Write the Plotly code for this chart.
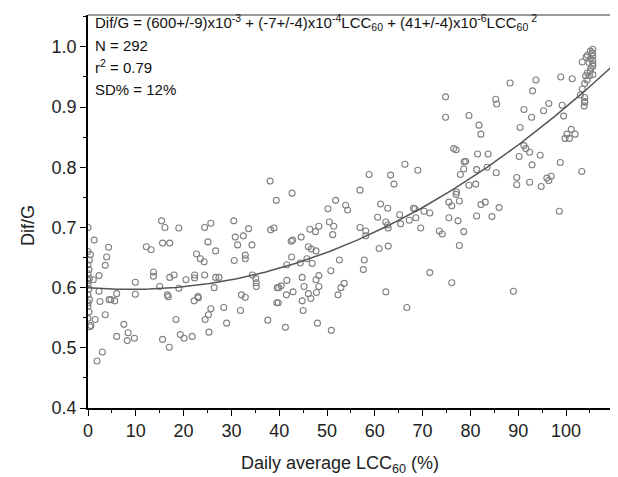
import numpy as np
import plotly.graph_objects as go

# Daily average LCC60 (%) as read against the reference's x tick labels
lcc = [
    0, 0, 0.3, 0, 0.2, 0, 0.3, 0, 0.2, 0, 0.3, 0, 0.2, 0, 0.4, 0, 0, 0.5,
    1.3, 4.3, 3.9, 3.6, 2.3, 1.1, 2.3, 2.5, 3.6, 1.5, 0.6, 3.0, 1.9, 4.4,
    4.8, 5.6, 6.0, 6.0, 7.5, 8.4, 8.2, 9.7, 9.9, 9.9,
    12.2, 13.2, 15.4, 16.1, 15.6, 17.1, 13.7, 13.7, 15.0, 17.1, 18.0, 16.6, 16.8, 19.0, 19.0, 20.5,
    22.3, 22.3, 22.7, 23.5, 24.3, 24.4, 25.7, 25.1, 26.7, 26.7, 27.4, 26.4, 24.4,
    30.5, 30.8, 31.3, 32.5, 33.6, 34.3, 32.9, 32.9, 30.6, 34.4, 35.1, 35.2, 35.2,
    38.1, 39.4, 38.2, 38.9, 39.6, 32.1, 32.9,
    18.4, 15.6, 17.0, 19.3, 20.1, 21.8, 24.5, 25.2, 25.7, 25.3, 28.4, 29.0, 31.9, 37.6, 39.8,
    22.2, 23.0, 23.1,
    42.7, 42.8, 42.5, 44.6, 46.4, 47.6, 48.3, 50.2, 50.5, 51.4, 51.2, 51.8, 53.9, 54.3,
    56.9, 58.8, 56.9, 58.1, 58.1, 60.6, 61.2, 62.7, 62.3, 62.7, 62.8, 63.3, 64.0, 66.3, 69.0,
    65.2, 65.4, 67.2, 68.1, 68.4, 68.6, 69.6, 70.3, 71.5, 73.5, 74.1, 75.5, 76.1, 75.5,
    77.4, 77.7, 78.6, 77.7, 77.1, 77.9, 78.6, 79.0, 79.7,
    42.6, 41.6, 45.8, 46.9, 46.1, 46.7, 47.7, 44.4, 52.6, 50.8, 57.8, 57.6, 60.9, 62.8,
    41.6, 39.9, 40.4, 39.5, 42.9, 41.5, 44.8, 45.2, 44.8, 45.0, 46.1, 46.6, 47.8, 48.3,
    48.3, 47.7, 52.9, 53.6, 52.3, 48.0, 41.3, 50.9, 62.3, 66.7, 71.5, 76.1,
    88.3, 93.7, 93.0, 98.9, 101.3, 103.4,
    105.6, 105.1, 105.5, 104.5, 105.6, 105.1, 104.2, 105.6, 104.8, 105.6, 105.1, 104.5, 105.6, 104.9, 104.1,
    103.9, 103.4, 103.9, 103.8, 103.0, 103.9, 103.9, 105.6, 105.2, 104.4,
    85.3, 85.5, 79.7, 91.2, 92.8, 95.3, 96.4, 99.2, 99.5, 81.8, 82.2, 90.4, 101.1, 100.2,
    101.9, 99.8, 100.7, 76.5, 77.0, 91.2, 91.6, 92.4, 94.6, 90.2, 81.5, 83.7, 78.7, 92.9,
    98.8, 103.3, 81.3, 83.5, 85.4, 89.7, 89.7, 92.4, 94.8, 96.0, 96.9, 96.4, 81.1, 77.0,
    82.2, 83.1, 86.0, 81.3, 84.5, 98.6, 89.0, 74.8, 74.8,
]
difg = [
    0.70, 0.66, 0.646, 0.638, 0.63, 0.623, 0.615, 0.607, 0.598, 0.588, 0.58, 0.569, 0.56, 0.549, 0.535, 0.612, 0.575, 0.655,
    0.679, 0.667, 0.651, 0.637, 0.62, 0.613, 0.594, 0.577, 0.555, 0.547, 0.537, 0.493, 0.478, 0.58,
    0.58, 0.578, 0.59, 0.519, 0.539, 0.525, 0.512, 0.516, 0.609, 0.589,
    0.668, 0.663, 0.711, 0.70, 0.674, 0.674, 0.626, 0.619, 0.602, 0.617, 0.621, 0.588, 0.585, 0.699, 0.599, 0.613,
    0.621, 0.616, 0.656, 0.648, 0.643, 0.70, 0.707, 0.676, 0.661, 0.617, 0.617, 0.60, 0.621,
    0.711, 0.684, 0.671, 0.686, 0.698, 0.671, 0.654, 0.648, 0.645, 0.621, 0.615, 0.608, 0.602,
    0.777, 0.745, 0.696, 0.699, 0.60, 0.588, 0.584,
    0.547, 0.514, 0.501, 0.522, 0.516, 0.519, 0.547, 0.555, 0.565, 0.526, 0.567, 0.541, 0.562, 0.546, 0.575,
    0.578, 0.585, 0.583,
    0.757, 0.679, 0.677, 0.684, 0.697, 0.693, 0.702, 0.731, 0.709, 0.702, 0.688, 0.745, 0.737, 0.729,
    0.762, 0.788, 0.70, 0.694, 0.686, 0.717, 0.739, 0.732, 0.709, 0.704, 0.699, 0.787, 0.772, 0.805, 0.795,
    0.721, 0.706, 0.712, 0.732, 0.731, 0.716, 0.699, 0.727, 0.724, 0.694, 0.689, 0.742, 0.736, 0.716,
    0.711, 0.744, 0.693, 0.67, 0.759, 0.788, 0.797, 0.81, 0.77,
    0.651, 0.638, 0.648, 0.64, 0.668, 0.664, 0.661, 0.641, 0.646, 0.628, 0.646, 0.63, 0.665, 0.669,
    0.612, 0.60, 0.603, 0.575, 0.593, 0.588, 0.617, 0.602, 0.578, 0.562, 0.59, 0.582, 0.592, 0.602,
    0.62, 0.613, 0.60, 0.607, 0.588, 0.541, 0.534, 0.529, 0.593, 0.567, 0.625, 0.608,
    0.94, 0.945, 0.927, 0.95, 0.947, 0.975,
    0.996, 0.993, 0.99, 0.986, 0.985, 0.98, 0.983, 0.978, 0.974, 0.968, 0.96, 0.957, 0.954, 0.952, 0.952,
    0.939, 0.93, 0.909, 0.902, 0.92, 0.916, 0.908, 0.972, 0.965, 0.945,
    0.913, 0.905, 0.886, 0.896, 0.883, 0.894, 0.906, 0.903, 0.885, 0.87, 0.855, 0.866, 0.863, 0.855,
    0.855, 0.848, 0.848, 0.831, 0.829, 0.836, 0.831, 0.825, 0.82, 0.818, 0.822, 0.822, 0.809, 0.804,
    0.808, 0.793, 0.796, 0.80, 0.791, 0.783, 0.771, 0.775, 0.768, 0.782, 0.785, 0.778, 0.772, 0.755,
    0.738, 0.742, 0.733, 0.719, 0.718, 0.727, 0.594, 0.917, 0.883,
]

# Quadratic fit curve as drawn (coefficients in the units of the drawn x axis)
fit_coef = [0.600, -6.6e-4, 3.66e-5]
fit_x = np.linspace(0, 112.6, 240)
fit_y = np.polyval(fit_coef[::-1], fit_x)

x_ticks = [0, 10, 20, 30, 40, 50, 60, 70, 80, 90, 100]
y_ticks = [0.4, 0.5, 0.6, 0.7, 0.8, 0.9, 1.0]

FONT = "Arial, 'Liberation Sans', Helvetica, sans-serif"

# Layout geometry (pixels)
ML, MT, MB = 80, 7, 77
PLOT_H = 477 - MT - MB

fig = go.Figure()
fig.add_trace(go.Scatter(
    x=lcc, y=difg, mode="markers",
    marker=dict(symbol="circle-open", size=6, color="#808080", line=dict(width=1.1, color="#808080")),
    showlegend=False, hoverinfo="skip",
))
fig.add_trace(go.Scatter(
    x=fit_x, y=fit_y, mode="lines",
    line=dict(color="#555555", width=1.5),
    showlegend=False, hoverinfo="skip",
))

axis_common = dict(
    showgrid=False, zeroline=False, showline=True, linecolor="black", linewidth=1.6,
    ticks="outside", ticklen=6, tickwidth=1.4, tickcolor="black",
    tickfont=dict(family=FONT, size=18, color="#222"),
)
fig.update_xaxes(
    range=[0, 112.55], tickvals=x_ticks, ticktext=[str(v) for v in x_ticks],
    minor=dict(ticks="outside", ticklen=3.5, tickwidth=1.2, tickcolor="black", dtick=5, tick0=0),
    **axis_common,
)
fig.update_yaxes(
    range=[0.4, 1.053], tickvals=y_ticks, ticktext=["%.1f" % v for v in y_ticks],
    minor=dict(ticks="outside", ticklen=3.5, tickwidth=1.2, tickcolor="black", dtick=0.05, tick0=0.4),
    **axis_common,
)


def ypix(py):
    return (477 - MB - py) / PLOT_H


annots = [
    dict(text="Dif/G = (600+/-9)x10<sup>-3</sup> + (-7+/-4)x10<sup>-4</sup>LCC<sub>60</sub> + (41+/-4)x10<sup>-6</sup>LCC<sub>60</sub><sup> 2</sup>", py=15),
    dict(text="N = 292", py=37),
    dict(text="r<sup>2</sup> = 0.79", py=59),
    dict(text="SD% = 12%", py=81),
]
for a in annots:
    fig.add_annotation(
        text=a["text"], xref="paper", yref="paper", x=0, y=ypix(a["py"]),
        xanchor="left", yanchor="middle", xshift=5, showarrow=False,
        font=dict(family=FONT, size=15, color="#111"),
    )

fig.add_annotation(
    text="Dif/G", xref="paper", yref="paper", x=0, y=ypix(218), xshift=-60,
    textangle=-90, showarrow=False, xanchor="center", yanchor="middle",
    font=dict(family=FONT, size=18, color="#222"),
)
fig.add_annotation(
    text="Daily average LCC<sub>60</sub> (%)", xref="paper", yref="paper",
    x=(332 - ML) / (618 - ML), y=ypix(456),
    showarrow=False, xanchor="center", yanchor="middle",
    font=dict(family=FONT, size=18, color="#222"),
)

fig.add_shape(type="line", xref="paper", yref="paper", x0=0, x1=1, y0=1, y1=1,
              line=dict(color="#9a9a9a", width=2))

fig.update_layout(
    width=618, height=477,
    margin=dict(l=ML, r=0, t=MT, b=MB),
    paper_bgcolor="white", plot_bgcolor="white",
    font=dict(family=FONT),
)

fig.write_html("out.html")
